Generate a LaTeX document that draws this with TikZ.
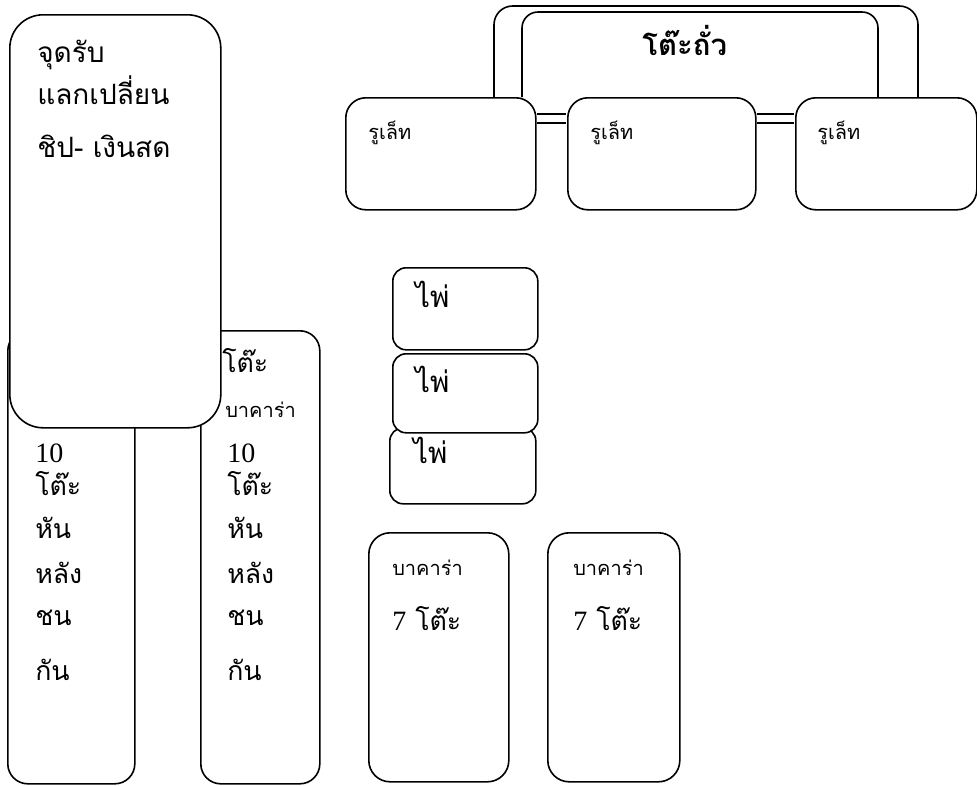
\documentclass[tikz,border=0pt]{standalone}
\usepackage{fontspec}
\setmainfont[Script=Thai]{Loma}
\newfontfamily\numfont{Liberation Serif}
\usetikzlibrary{positioning}

\tikzset{
  zone/.style={draw, line width=1.2pt, fill=white, rounded corners=#1,
    anchor=north west, inner sep=0pt},
  zone/.default=15pt,
  wh/.style 2 args={minimum width=#1*0.75pt, minimum height=#2*0.75pt},
  txt/.style={anchor=base west, inner sep=0pt, font=\fontsize{20}{24}\selectfont},
  thin/.style={anchor=base west, inner sep=0pt, font=\fontsize{15}{18}\selectfont},
  link/.style={line width=1.2pt, double=white, double distance=5.5pt,
    shorten <=0.6pt, shorten >=0.6pt},
}

\begin{document}
\begin{tikzpicture}[x=0.75pt,y=-0.75pt]
	\useasboundingbox (0,0) rectangle (977,785);

	% Two long tables, back to back
	\node[zone, wh={127}{453}] (colA) at (7,330) {};
	\node[zone, wh={119}{453}] (colB) at (200,330) {};
	\foreach \x/\c in {35/A,227/B}
		\foreach \t/\y [count=\i] in {{\numfont\fontsize{21}{24}\selectfont 10}/462, โต๊ะ/495, หัน/538, หลัง/583, ชน/625, กัน/680}
			\node[txt] (\c\i) at (\x,\y) {\t};
	\node[txt] (colBtop) at (222,372) {โต๊ะ};
	\node[thin] (colBsub) at (225,417) {บาคาร่า};

	% Exchange desk
	\node[zone=25pt, wh={211}{413}] (desk) at (9,14) {};
	\node[txt, font=\fontsize{21}{24}\selectfont] (desk1) at (37,62) {จุดรับ};
	\node[txt, font=\fontsize{21}{24}\selectfont] (desk2) at (37,104) {แลกเปลี่ยน};
	\node[txt, font=\fontsize{21}{24}\selectfont] (desk3) at (37,157) {ชิป- เงินสด};

	% Dice table frame
	\draw[line width=1.2pt, rounded corners=14pt] (494,97) |- (918,6) -- (918,97);
	\draw[line width=1.2pt, rounded corners=12pt] (522,97) |- (878,12) -- (878,97);
	\node[txt, font=\bfseries\fontsize{22}{26}\selectfont] (dice) at (642,55) {โต๊ะถั่ว};

	% Roulette tables
	\node[zone, wh={190}{112}] (hole1) at (345,97) {};
	\node[zone, wh={188}{112}] (hole2) at (567,97) {};
	\node[zone, wh={181}{112}] (hole3) at (795,97) {};
	\foreach \n/\x in {1/368,2/590,3/817}
		\node[thin] (holetxt\n) at (\x,139) {รูเล็ท};
	\draw[link] ([yshift=26.6pt]hole1.east) -- ([yshift=26.6pt]hole2.west);
	\draw[link] ([yshift=26.6pt]hole2.east) -- ([yshift=26.6pt]hole3.west);

	% Card tables
	\node[zone=10pt, wh={145}{82}] (cardA) at (392,267) {};
	\node[zone=10pt, wh={146}{76}] (cardC) at (389,427) {};
	\node[zone=10pt, wh={145}{79}] (cardB) at (392,353) {};
	\node[txt, font=\fontsize{22}{26}\selectfont] (cardAtxt) at (415,307) {ไพ่};
	\node[txt, font=\fontsize{22}{26}\selectfont] (cardBtxt) at (415,392) {ไพ่};
	\node[txt, font=\fontsize{22}{26}\selectfont] (cardCtxt) at (413,463) {ไพ่};

	% Baccarat
	\node[zone=16pt, wh={140}{249}] (bacc1) at (368,532) {};
	\node[zone=16pt, wh={132}{249}] (bacc2) at (547,532) {};
	\foreach \n/\x in {1/392,2/573} {
		\node[thin] (bacctop\n) at (\x,575) {บาคาร่า};
		\node[txt] (baccnum\n) at (\x,630) {{\numfont\fontsize{21}{24}\selectfont 7} โต๊ะ};
	}

\end{tikzpicture}
\end{document}
